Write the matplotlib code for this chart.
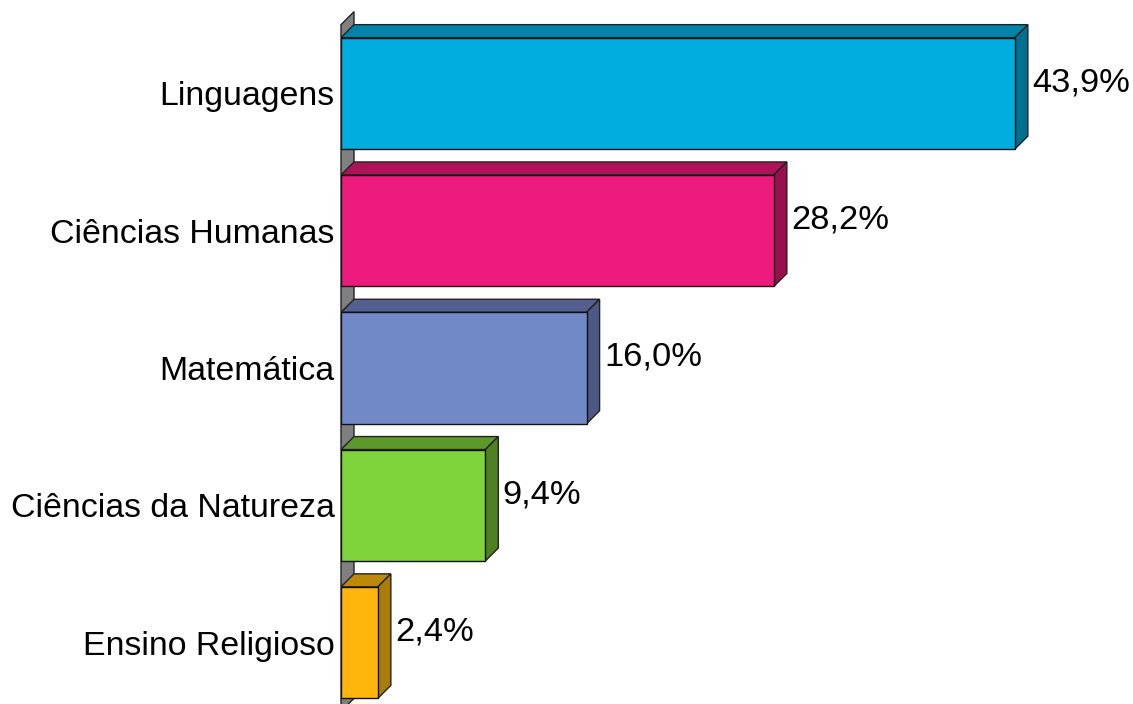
import matplotlib
matplotlib.use('Agg')
import matplotlib.pyplot as plt
from matplotlib.patches import Polygon

plt.rcParams['font.family'] = ['Liberation Sans', 'DejaVu Sans']

categorias = ['Linguagens', 'Ciências Humanas', 'Matemática', 'Ciências da Natureza', 'Ensino Religioso']
valores = [43.9, 28.2, 16.0, 9.4, 2.4]
rotulos = ['43,9%', '28,2%', '16,0%', '9,4%', '2,4%']
cor_frente = ['#00ADDE', '#EC1A7C', '#7289C8', '#7FD33B', '#FFB60C']
cor_topo = ['#0085AA', '#AE1259', '#525F8F', '#5D982A', '#BC8A08']
cor_lado = ['#00708E', '#9A0F4E', '#4C5985', '#4F8024', '#AA7C0A']

W, H = 1133, 704
LEFT = 341.0       # px, base das barras
PX_UNIT = 15.35    # px por ponto percentual
PX_CAT = 137.3     # px entre categorias
CENTER0 = 93.4     # px, centro da primeira barra
DEPTH = 13         # px, profundidade 3D

fig = plt.figure(figsize=(W / 100, H / 100), dpi=100)
ax = fig.add_axes([LEFT / W, 0, 1 - LEFT / W, 1])
ax.set_xlim(0, (W - LEFT) / PX_UNIT)
ax.set_ylim((H - CENTER0) / PX_CAT, -CENTER0 / PX_CAT)
ax.patch.set_visible(False)
for s in ax.spines.values():
    s.set_visible(False)

dx = DEPTH / PX_UNIT
dy = DEPTH / PX_CAT
altura = 111.5 / PX_CAT
posicoes = list(range(len(categorias)))

# parede cinza atras das barras
topo = posicoes[0] - altura / 2 - dy
base = posicoes[-1] + altura / 2 + dy
ax.add_patch(Polygon([(0, topo), (dx, topo - dy), (dx, base - dy), (0, base)], closed=True,
                     facecolor='#808080', edgecolor='#222222', linewidth=1, zorder=1, clip_on=False))

for i, v in enumerate(valores):
    t = i - altura / 2
    b = i + altura / 2
    ax.add_patch(Polygon([(0, t), (dx, t - dy), (v + dx, t - dy), (v, t)], closed=True,
                         facecolor=cor_topo[i], edgecolor='#222222', linewidth=1, zorder=2))
    ax.add_patch(Polygon([(v, t), (v + dx, t - dy), (v + dx, b - dy), (v, b)], closed=True,
                         facecolor=cor_lado[i], edgecolor='#222222', linewidth=1, zorder=2))

ax.barh(posicoes, valores, height=altura, color=cor_frente, edgecolor='#111111', linewidth=1, zorder=3)

for i, v in enumerate(valores):
    ax.annotate(rotulos[i], xy=(v, i), xytext=(17.5 * 0.72, 10.5 * 0.72), textcoords='offset points',
                ha='left', va='center', fontsize=24.8, color='black', zorder=4)

ax.set_xticks([])
ax.set_yticks(posicoes)
ax.set_yticklabels(categorias, fontsize=24.4, color='black')
ax.tick_params(axis='y', length=0, pad=4.5)

fig.savefig('out.png', dpi=100, facecolor='white')
